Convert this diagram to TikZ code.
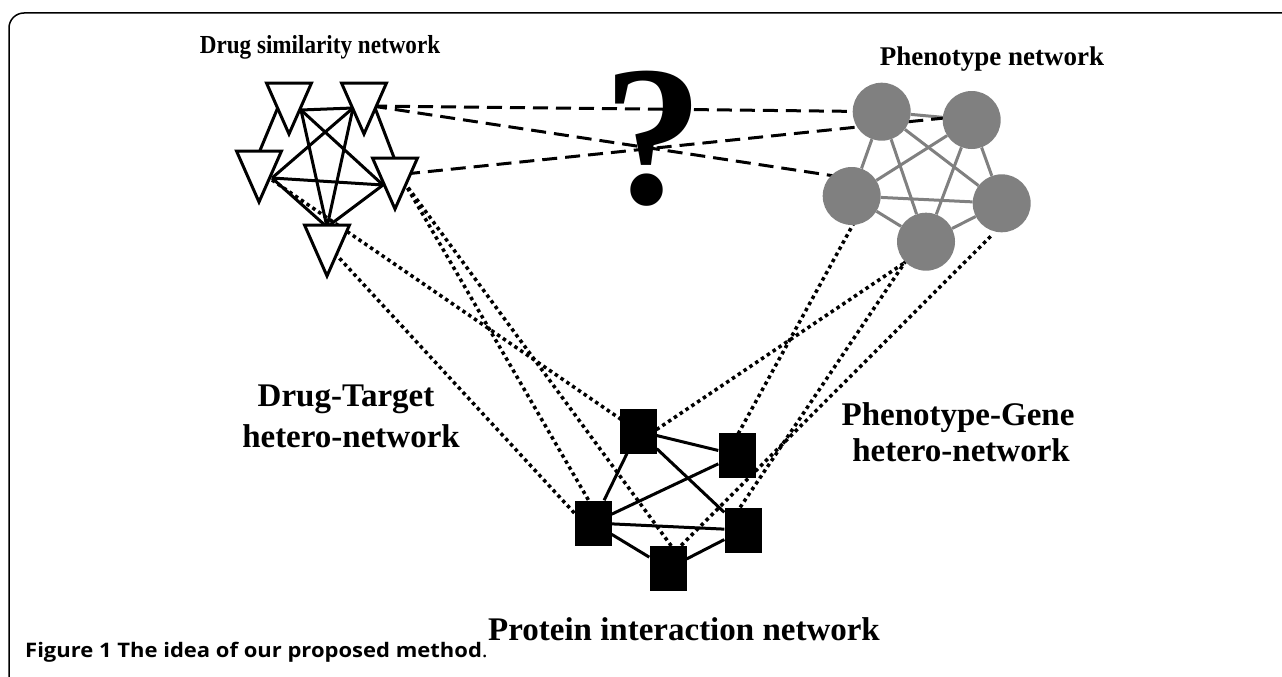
\documentclass[tikz,border=0pt]{standalone}
\usepackage{fontspec}
\setmainfont{Liberation Serif}
\newfontfamily\capfont{Open Sans}
\usetikzlibrary{backgrounds}
\definecolor{phgray}{RGB}{128,128,128}
\newcommand\drugtri[3]{\filldraw[tri] (#2-22.5,#3) -- (#2+22.5,#3) -- (#2,#3+51) -- cycle;}
\begin{document}
\begin{tikzpicture}[x=1pt,y=-1pt,
  tri/.style={draw=black,fill=white,line width=3pt},
  dlink/.style={draw=black,line width=3pt},
  pcirc/.style={circle,fill=phgray,minimum size=58pt,inner sep=0pt},
  plink/.style={draw=phgray,line width=3pt},
  psq/.style={rectangle,fill=black,minimum width=37pt,minimum height=45pt,inner sep=0pt},
  slink/.style={draw=black,line width=3pt},
  dashlink/.style={draw=black,line width=3pt,dash pattern=on 15pt off 8pt},
  dotlink/.style={draw=black,line width=3.5pt,dash pattern=on 3.5pt off 3.5pt},
  lbl/.style={font=\fontsize{33}{37}\selectfont\bfseries,anchor=base,inner sep=0pt},
]
\useasboundingbox (0,0) rectangle (1282,677);
\draw[line width=1.5pt,rounded corners=15pt] (9,700) -- (9,13) -- (1300,13);

% drug network anchors
\coordinate (j1) at (301,110);
\coordinate (j2) at (353,108);
\coordinate (j3) at (272,178);
\coordinate (j4) at (383,185);
\coordinate (j5) at (327,227);
\coordinate (c13a) at (281,100);
\coordinate (c13b) at (256,160);
\coordinate (c24a) at (372,100);
\coordinate (c24b) at (398,168);
\coordinate (t2d) at (372,106);
\coordinate (t4d) at (405,174);
\coordinate (t3p) at (272,180);
\coordinate (t5p) at (330,248);
\coordinate (t4p) at (404,182);

% phenotype circles
\node[pcirc] (P1) at (881.7,111.7) {};
\node[pcirc] (P2) at (971.7,120) {};
\node[pcirc] (P3) at (851.7,196) {};
\node[pcirc] (P4) at (926,241.7) {};
\node[pcirc] (P5) at (1001.7,203.3) {};

% protein squares
\node[psq] (S1) at (638,431) {};
\node[psq] (S2) at (737,455) {};
\node[psq] (S3) at (593,523) {};
\node[psq] (S4) at (743,530) {};
\node[psq] (S5) at (668,568.5) {};

\begin{scope}[on background layer]
  % drug similarity edges
  \draw[dlink] (j1) -- (j2);
  \draw[dlink] (j1) -- (j4);
  \draw[dlink] (j1) -- (j5);
  \draw[dlink] (j2) -- (j3);
  \draw[dlink] (j2) -- (j5);
  \draw[dlink] (j3) -- (j4);
  \draw[dlink] (j3) -- (j5);
  \draw[dlink] (j4) -- (j5);
  \draw[dlink] (c13a) -- (c13b);
  \draw[dlink] (c24a) -- (c24b);
  % phenotype edges
  \foreach \a/\b in {P1/P2,P1/P3,P1/P4,P1/P5,P2/P3,P2/P4,P2/P5,P3/P4,P3/P5,P4/P5}
    \draw[plink] (\a) -- (\b);
  % protein edges
  \foreach \a/\b in {S1/S2,S1/S3,S2/S3,S1/S4,S3/S4,S3/S5,S4/S5}
    \draw[slink] (\a) -- (\b);
  % drug-phenotype (dashed)
  \draw[dashlink] (t2d) -- (P1.center);
  \draw[dashlink] (t2d) -- ([shift={(-17,-20)}]P3.center);
  \draw[dashlink] (t4d) -- ([shift={(-8,-4)}]P2.center);
  % drug-target (dotted)
  \draw[dotlink] (t3p) -- (S1.center);
  \draw[dotlink] (t5p) -- ([shift={(-3,7)}]S3.center);
  \draw[dotlink] (t4p) -- ([shift={(14,-8)}]S5.center);
  \draw[dotlink] (t4p) -- ([shift={(7,-3)}]S3.center);
  % phenotype-gene (dotted)
  \draw[dotlink] ([shift={(6,20)}]P3.center) -- ([shift={(-5,-10)}]S2.center);
  \draw[dotlink] ([shift={(-11,14)}]P4.center) -- ([shift={(12,3)}]S1.center);
  \draw[dotlink] ([shift={(-16,13)}]P4.center) -- ([shift={(-8,-15)}]S4.center);
  \draw[dotlink] ([shift={(-11,33)}]P5.center) -- ([shift={(2,-12)}]S5.center);
\end{scope}

% triangles
\drugtri{T1}{289}{83}
\drugtri{T2}{364}{83}
\drugtri{T3}{259}{151}
\drugtri{T4}{395}{158}
\drugtri{T5}{327}{225}

% texts
\node[font=\fontsize{26}{30}\selectfont\bfseries,anchor=base,inner sep=0pt] (tdrug) at (320,53) {\scalebox{0.89}[1]{Drug similarity network}};
\node[font=\fontsize{27}{30}\selectfont\bfseries,anchor=base,inner sep=0pt] (tphen) at (992,66) {Phenotype network};
\node[font=\fontsize{200}{200}\selectfont\bfseries,anchor=base,inner sep=0pt] (qm) at (653,203) {?};
\node[lbl] (dt1) at (346,406.7) {Drug-Target};
\node[lbl] (dt2) at (351,447.3) {hetero-network};
\node[lbl] (pg1) at (958,425) {Phenotype-Gene};
\node[lbl] (pg2) at (961,461.7) {hetero-network};
\node[lbl] (tprot) at (684,640) {Protein interaction network};
\node[font=\capfont\fontsize{20}{22}\selectfont\bfseries,anchor=base west,inner sep=0pt] (cap) at (25,657) {\scalebox{1.1}[1]{Figure 1 The idea of our proposed method\mdseries.}};
\end{tikzpicture}
\end{document}
